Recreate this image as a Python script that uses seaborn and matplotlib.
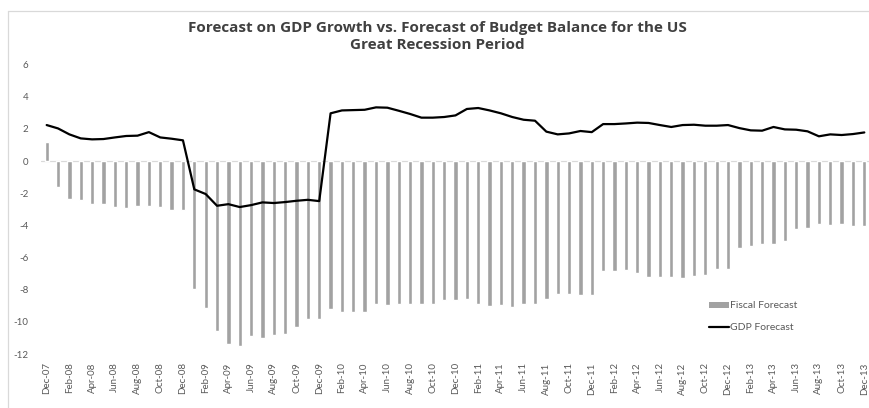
import numpy as np
import pandas as pd
import matplotlib
matplotlib.use("Agg")
import matplotlib.pyplot as plt
import seaborn as sns
from matplotlib.lines import Line2D
from matplotlib.patches import Patch

months = list(pd.date_range("2007-12-01", periods=73, freq="MS").strftime("%b-%y"))

fiscal = [1.2, -1.6, -2.34, -2.43, -2.7, -2.7, -2.84, -2.93, -2.8, -2.8, -2.88, -3.07, -3.07,
          -7.93, -9.17, -10.6, -11.35, -11.5, -10.9, -11.0, -10.83, -10.77, -10.35, -9.8, -9.8,
          -9.2, -9.36, -9.36, -9.36, -8.86, -8.98, -8.92, -8.86, -8.86, -8.86, -8.65, -8.65,
          -8.61, -8.86, -9.02, -8.98, -9.1, -8.9, -8.9, -8.57, -8.28, -8.28, -8.36, -8.36,
          -6.85, -6.85, -6.76, -6.95, -7.18, -7.24, -7.24, -7.26, -7.14, -7.1, -6.74, -6.74,
          -5.41, -5.27, -5.17, -5.17, -4.96, -4.25, -4.19, -3.92, -3.96, -3.9, -4.02, -4.02]

gdp = [2.24, 2.03, 1.66, 1.41, 1.35, 1.37, 1.47, 1.56, 1.58, 1.8, 1.47, 1.39, 1.29,
       -1.76, -2.05, -2.78, -2.68, -2.86, -2.74, -2.57, -2.61, -2.55, -2.47, -2.41, -2.49,
       2.97, 3.15, 3.17, 3.19, 3.34, 3.32, 3.13, 2.93, 2.7, 2.7, 2.74, 2.84,
       3.24, 3.3, 3.15, 2.97, 2.74, 2.57, 2.51, 1.83, 1.66, 1.72, 1.87, 1.8,
       2.3, 2.3, 2.34, 2.39, 2.37, 2.24, 2.12, 2.24, 2.26, 2.2, 2.2, 2.24,
       2.05, 1.91, 1.89, 2.12, 1.97, 1.95, 1.85, 1.54, 1.66, 1.62, 1.68, 1.78]

yticks = [6, 4, 2, 0, -2, -4, -6, -8, -10, -12]

title_lines = ["Forecast on GDP Growth vs. Forecast of Budget Balance for the US",
               "Great Recession Period"]

df = pd.DataFrame({"month": months, "fiscal": fiscal, "gdp": gdp, "idx": np.arange(len(months))})

sns.set_theme(style="white")
plt.rcParams["font.family"] = ["Lato", "DejaVu Sans"]

fig = plt.figure(figsize=(8.7, 4.08), dpi=100)
ax = fig.add_axes([41 / 870, 1 - 354 / 408, 829 / 870, (354 - 64.6) / 408])

sns.barplot(data=df, x="month", y="fiscal", color="#A2A2A2", saturation=1, width=0.38,
            ax=ax, order=months)
sns.lineplot(data=df, x="idx", y="gdp", color="black", linewidth=1.6, ax=ax)

ax.set_xlim(-0.5, len(months) - 0.5)
ax.set_ylim(-12, 6)
ax.set_yticks(yticks)
ax.set_yticklabels([str(v) for v in yticks], color="#595959", fontsize=7)
ax.set_xticks(range(0, len(months), 2))
ax.set_xticklabels(months[::2], rotation=90, color="#595959", fontsize=7)
ax.tick_params(axis="y", length=0, pad=9)
ax.tick_params(axis="x", length=0, pad=6)
ax.set_xlabel("")
ax.set_ylabel("")
for s in ax.spines.values():
    s.set_visible(False)
ax.axhline(0, color="#D9D9D9", linewidth=0.9, zorder=0)

handles = [Patch(facecolor="#A2A2A2", edgecolor="none"),
           Line2D([0], [0], color="black", linewidth=1.6)]
leg = ax.legend(handles, ["Fiscal Forecast", "GDP Forecast"], loc="upper left",
                bbox_to_anchor=(700 / 870, 1 - 292 / 408), bbox_transform=fig.transFigure,
                frameon=False, fontsize=7.5, handlelength=1.9, handleheight=0.5,
                handletextpad=0.1, labelspacing=1.2)
for t in leg.get_texts():
    t.set_color("#595959")

fig.text(437 / 870, 1 - 28 / 408, title_lines[0], ha="center", va="center",
         fontsize=11, fontweight="bold", color="#404040", family=["Open Sans", "DejaVu Sans"])
fig.text(437 / 870, 1 - 45 / 408, title_lines[1], ha="center", va="center",
         fontsize=11, fontweight="bold", color="#404040", family=["Open Sans", "DejaVu Sans"])

fig.add_artist(Line2D([8 / 870, 8 / 870], [0, 1 - 11 / 408], transform=fig.transFigure,
                      color="#D9D9D9", linewidth=0.9))
fig.add_artist(Line2D([8 / 870, 1], [1 - 11 / 408, 1 - 11 / 408], transform=fig.transFigure,
                      color="#D9D9D9", linewidth=0.9))

fig.savefig("out.png", dpi=100)
